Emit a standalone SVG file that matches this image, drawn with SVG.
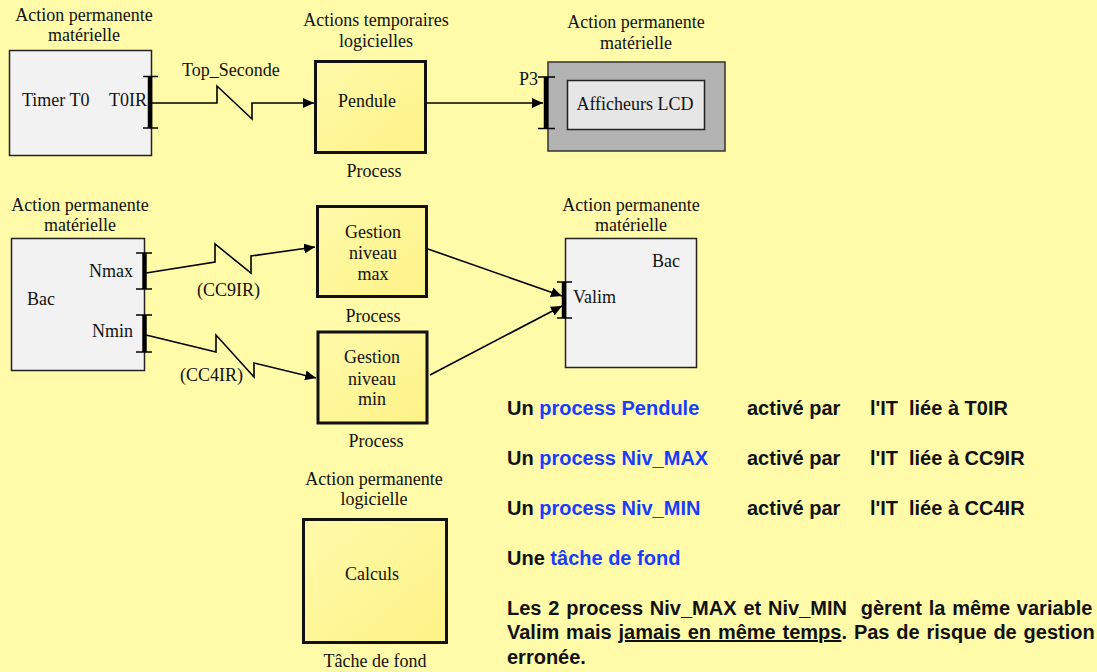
<svg xmlns="http://www.w3.org/2000/svg" width="1097" height="672" viewBox="0 0 1097 672">
<style>
.t{font-family:"Liberation Serif","Times New Roman",serif;font-size:18px;fill:#111}
.c{text-anchor:middle}
.b{font-family:"Liberation Sans",Arial,sans-serif;font-size:20px;font-weight:bold;fill:#111}
.ws{word-spacing:1.3px}
.blue{fill:#1A3CFF}
.hw{fill:#F2F2F2;stroke:#222;stroke-width:1.5}
.proc{fill:url(#pg);stroke:#111;stroke-width:3}
.bar{stroke:#000;stroke-width:4.5}
.tick{stroke:#000;stroke-width:1.5}
.conn{fill:none;stroke:#000;stroke-width:1.6}
</style>
<defs>
<linearGradient id="pg" x1="0" y1="0" x2="1" y2="1">
<stop offset="0" stop-color="#FFFAAA"/>
<stop offset="1" stop-color="#FDF286"/>
</linearGradient>
<marker id="ah" markerUnits="userSpaceOnUse" markerWidth="12" markerHeight="10" refX="11" refY="5" orient="auto">
<path d="M0,0 L11,5 L0,10 z" fill="#000"/>
</marker>
</defs>
<rect width="1097" height="672" fill="#FFFBA8"/>

<g id="timer">
<text class="t c" x="84" y="21">Action permanente</text>
<text class="t c" x="84" y="41">matérielle</text>
<rect class="hw" x="9.5" y="50.5" width="142" height="105"/>
<text class="t" x="22" y="106">Timer T0</text>
<text class="t" x="109" y="106">T0IR</text>
<line class="bar" x1="150" y1="76" x2="150" y2="128"/>
<line class="tick" x1="143" y1="76.5" x2="158" y2="76.5"/>
<line class="tick" x1="143" y1="128" x2="158" y2="128"/>
</g>

<g id="pendule">
<text class="t c" x="376" y="26">Actions temporaires</text>
<text class="t c" x="376" y="47">logicielles</text>
<rect class="proc" x="315.5" y="61.5" width="110" height="91"/>
<text class="t c" x="367" y="107">Pendule</text>
<text class="t c" x="374" y="177">Process</text>
</g>

<g id="lcd">
<text class="t c" x="636" y="28">Action permanente</text>
<text class="t c" x="636" y="49">matérielle</text>
<rect x="548" y="62" width="177" height="89" fill="#B3B3B3" stroke="#333" stroke-width="1.5"/>
<rect x="567.5" y="80.5" width="137" height="49" fill="#E6E6E6" stroke="#222" stroke-width="1.5"/>
<text class="t c" x="635" y="110">Afficheurs LCD</text>
<text class="t" x="519" y="85">P3</text>
<line class="bar" x1="546" y1="77" x2="546" y2="129"/>
<line class="tick" x1="538" y1="77" x2="555" y2="77"/>
<line class="tick" x1="538" y1="128.5" x2="555" y2="128.5"/>
</g>

<g id="bac-source">
<text class="t c" x="80" y="211">Action permanente</text>
<text class="t c" x="80" y="231">matérielle</text>
<rect class="hw" x="11.5" y="238.5" width="133" height="132"/>
<text class="t" x="27" y="305">Bac</text>
<text class="t" x="89" y="277">Nmax</text>
<text class="t" x="92" y="337">Nmin</text>
<line class="bar" x1="144.5" y1="253" x2="144.5" y2="289"/>
<line class="tick" x1="136" y1="253" x2="152" y2="253"/>
<line class="tick" x1="136" y1="289" x2="152" y2="289"/>
<line class="bar" x1="144.5" y1="315" x2="144.5" y2="352"/>
<line class="tick" x1="136" y1="315" x2="152" y2="315"/>
<line class="tick" x1="136" y1="352" x2="152" y2="352"/>
</g>

<g id="gestion-max">
<rect class="proc" x="317.5" y="206.5" width="109" height="90"/>
<text class="t c" x="373" y="238">Gestion</text>
<text class="t c" x="373" y="259">niveau</text>
<text class="t c" x="373" y="280">max</text>
<text class="t c" x="373" y="322">Process</text>
</g>

<g id="gestion-min">
<rect class="proc" x="318" y="332" width="109" height="91"/>
<text class="t c" x="372" y="363">Gestion</text>
<text class="t c" x="372" y="385">niveau</text>
<text class="t c" x="372" y="405">min</text>
<text class="t c" x="376" y="447">Process</text>
</g>

<g id="bac-valim">
<text class="t c" x="631" y="211">Action permanente</text>
<text class="t c" x="631" y="231">matérielle</text>
<rect class="hw" x="565.5" y="238.5" width="131" height="129"/>
<text class="t" x="652" y="267">Bac</text>
<text class="t" x="573" y="303">Valim</text>
<line class="bar" x1="564" y1="282" x2="564" y2="318"/>
<line class="tick" x1="557" y1="282" x2="572" y2="282"/>
<line class="tick" x1="557" y1="318" x2="572" y2="318"/>
</g>

<g id="calculs">
<text class="t c" x="374" y="485">Action permanente</text>
<text class="t c" x="374" y="505">logicielle</text>
<rect class="proc" x="303.5" y="519.5" width="143" height="123"/>
<text class="t c" x="372" y="580">Calculs</text>
<text class="t c" x="375" y="667">Tâche de fond</text>
</g>

<g id="connectors">
<polyline class="conn" points="152,103 217,103 217,86 252,119 252,103 314,103" marker-end="url(#ah)"/>
<text class="t" x="182" y="76">Top_Seconde</text>
<line class="conn" x1="426" y1="103" x2="543" y2="103" marker-end="url(#ah)"/>
<polyline class="conn" points="146,273 215,262 215,244 251,273 251,256 315,247" marker-end="url(#ah)"/>
<text class="t" x="197" y="296">(CC9IR)</text>
<polyline class="conn" points="146,335 216,352 216,335 254,377 254,363 316,378" marker-end="url(#ah)"/>
<text class="t" x="180" y="381">(CC4IR)</text>
<line class="conn" x1="428" y1="249" x2="562" y2="296" marker-end="url(#ah)"/>
<line class="conn" x1="430" y1="375" x2="562" y2="306" marker-end="url(#ah)"/>
</g>

<g id="notes">
<text class="b" x="507" y="415">Un <tspan class="blue">process Pendule</tspan></text>
<text class="b" x="747" y="415">activé par</text>
<text class="b" x="870" y="415">l'IT</text>
<text class="b" x="909" y="415">liée à T0IR</text>
<text class="b" x="507" y="465">Un <tspan class="blue">process Niv_MAX</tspan></text>
<text class="b" x="747" y="465">activé par</text>
<text class="b" x="870" y="465">l'IT</text>
<text class="b" x="909" y="465">liée à CC9IR</text>
<text class="b" x="507" y="515">Un <tspan class="blue">process Niv_MIN</tspan></text>
<text class="b" x="747" y="515">activé par</text>
<text class="b" x="870" y="515">l'IT</text>
<text class="b" x="909" y="515">liée à CC4IR</text>
<text class="b" x="507" y="565">Une <tspan class="blue">tâche de fond</tspan></text>
<text class="b ws" x="507" y="615" style="white-space:pre">Les 2 process Niv_MAX et Niv_MIN  gèrent la même variable</text>
<text class="b ws" x="507" y="639">Valim mais <tspan text-decoration="underline">jamais en même temps</tspan>. Pas de risque de gestion</text>
<text class="b" x="507" y="664">erronée.</text>
</g>
</svg>
